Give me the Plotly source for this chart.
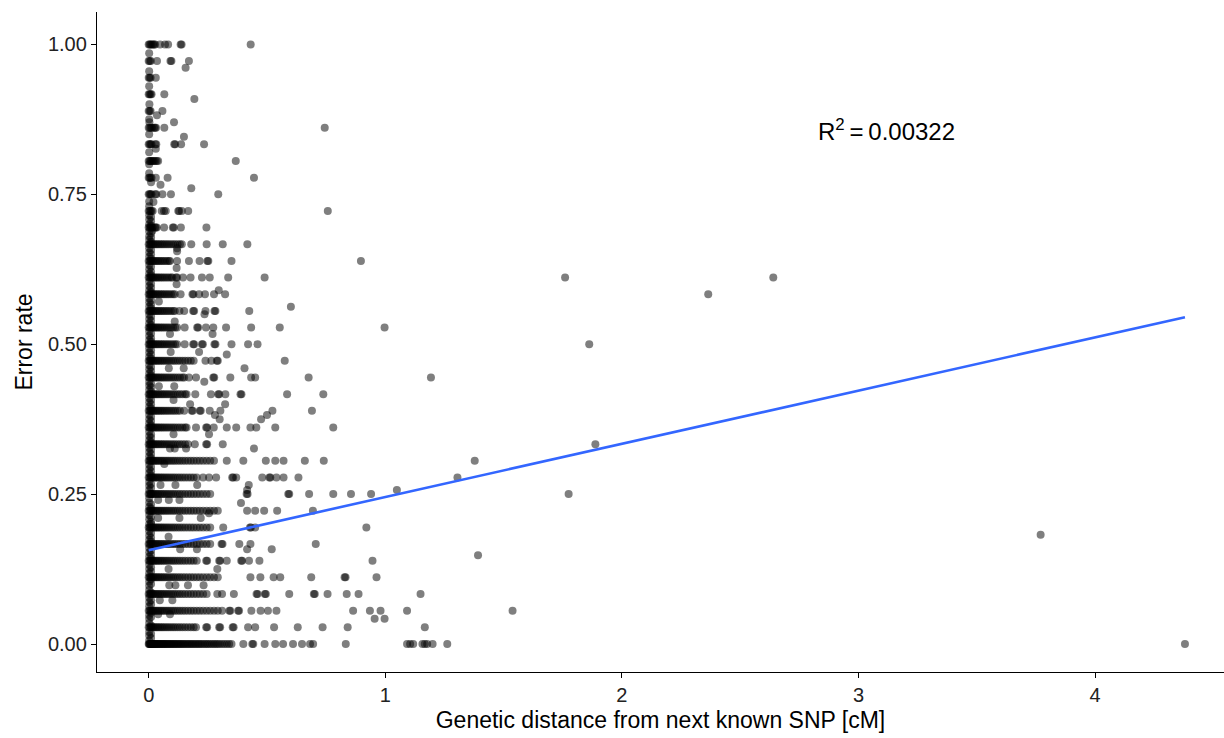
import plotly.graph_objects as go

# ---- data (x = genetic distance [cM], y = error rate) ----
# points on the main error-rate levels (k/36), one list of x values per level
r36 = [0, 0.004, 0.008, 0.013, 0.018, 0.023, 0.027, 0.048, 0.069, 0.082, 0.135, 0.139, 0.431]
r35 = [0, 0.004, 0.009, 0.035, 0.092, 0.096, 0.17]
r34 = [0, 0.004, 0.008, 0.03]
r33 = [0, 0.004, 0.008, 0.012, 0.066]
r32 = [0, 0.004, 0.008, 0.058]
r31 = [0, 0.004, 0.009, 0.014, 0.022, 0.027, 0.031, 0.066, 0.744]
r30 = [0, 0.004, 0.008, 0.012, 0.028, 0.032, 0.108, 0.112, 0.137, 0.234]
r29 = [0, 0.004, 0.008, 0.012, 0.017, 0.022, 0.028, 0.034, 0.04, 0.368]
r28 = [0, 0.004, 0.008, 0.012, 0.03, 0.08, 0.445]
r27 = [0, 0.004, 0.008, 0.012, 0.028, 0.032, 0.058, 0.094, 0.294]
r26 = [0, 0.004, 0.008, 0.012, 0.017, 0.055, 0.065, 0.072, 0.125, 0.129, 0.14, 0.167, 0.757]
r25 = [0, 0.004, 0.008, 0.012, 0.017, 0.026, 0.03, 0.034, 0.065, 0.102, 0.106, 0.136, 0.244]
r24 = [0, 0.004, 0.008, 0.012, 0.017, 0.022, 0.028, 0.034, 0.04, 0.047, 0.054, 0.061, 0.069,
       0.077, 0.085, 0.094, 0.103, 0.112, 0.122, 0.132, 0.14, 0.18, 0.245, 0.313, 0.417]
r23 = [0, 0.004, 0.008, 0.012, 0.017, 0.022, 0.028, 0.034, 0.04, 0.047, 0.054, 0.061, 0.069,
       0.077, 0.085, 0.09, 0.12, 0.17, 0.215, 0.248, 0.252, 0.35, 0.897]
r22 = [0, 0.004, 0.008, 0.012, 0.017, 0.022, 0.028, 0.034, 0.04, 0.047, 0.054, 0.061, 0.069,
       0.077, 0.085, 0.094, 0.1, 0.116, 0.12, 0.145, 0.177, 0.225, 0.258, 0.336, 0.49, 1.76, 2.64]
r21 = [0, 0.004, 0.008, 0.012, 0.017, 0.022, 0.028, 0.034, 0.04, 0.047, 0.054, 0.061, 0.069,
       0.077, 0.085, 0.094, 0.103, 0.11, 0.135, 0.185, 0.189, 0.213, 0.238, 0.276, 0.323, 2.365]
r20 = [0, 0.004, 0.008, 0.012, 0.017, 0.022, 0.028, 0.034, 0.04, 0.047, 0.054, 0.061, 0.069,
       0.077, 0.085, 0.094, 0.103, 0.11, 0.13, 0.15, 0.188, 0.192, 0.24, 0.278, 0.282, 0.425]
r19 = [0, 0.004, 0.008, 0.012, 0.017, 0.022, 0.028, 0.034, 0.04, 0.047, 0.054, 0.061, 0.069,
       0.077, 0.085, 0.094, 0.103, 0.112, 0.12, 0.152, 0.205, 0.209, 0.242, 0.273, 0.327,
       0.433, 0.554, 0.997]
r18 = [0, 0.004, 0.008, 0.012, 0.017, 0.022, 0.028, 0.034, 0.04, 0.047, 0.054, 0.061, 0.069,
       0.077, 0.085, 0.094, 0.103, 0.112, 0.12, 0.152, 0.188, 0.192, 0.225, 0.229, 0.278,
       0.282, 0.35, 0.42, 0.46, 1.862]
r17 = [0, 0.004, 0.008, 0.012, 0.017, 0.022, 0.028, 0.034, 0.04, 0.047, 0.054, 0.061, 0.069,
       0.077, 0.085, 0.094, 0.103, 0.112, 0.122, 0.132, 0.143, 0.154, 0.166, 0.178, 0.19,
       0.24, 0.265, 0.288, 0.292, 0.575]
r16 = [0, 0.004, 0.008, 0.012, 0.017, 0.022, 0.028, 0.034, 0.04, 0.047, 0.054, 0.061, 0.069,
       0.077, 0.085, 0.094, 0.103, 0.112, 0.122, 0.132, 0.143, 0.15, 0.17, 0.2, 0.273, 0.277,
       0.345, 0.433, 0.45, 0.676, 1.193]
r15 = [0, 0.004, 0.008, 0.012, 0.017, 0.022, 0.028, 0.034, 0.04, 0.047, 0.054, 0.061, 0.069,
       0.077, 0.085, 0.094, 0.103, 0.112, 0.122, 0.132, 0.143, 0.154, 0.16, 0.197, 0.263,
       0.294, 0.298, 0.324, 0.388, 0.392, 0.585, 0.738]
r14 = [0, 0.004, 0.008, 0.012, 0.017, 0.022, 0.028, 0.034, 0.04, 0.047, 0.054, 0.061, 0.069,
       0.077, 0.085, 0.094, 0.103, 0.112, 0.122, 0.132, 0.15, 0.182, 0.186, 0.216, 0.22,
       0.258, 0.303, 0.523, 0.69]
r13 = [0, 0.004, 0.008, 0.012, 0.017, 0.022, 0.028, 0.034, 0.04, 0.047, 0.054, 0.061, 0.069,
       0.077, 0.085, 0.094, 0.103, 0.112, 0.122, 0.132, 0.143, 0.154, 0.16, 0.2, 0.243,
       0.247, 0.275, 0.33, 0.37, 0.43, 0.455, 0.535, 0.78]
r12 = [0, 0.004, 0.008, 0.012, 0.017, 0.022, 0.028, 0.034, 0.04, 0.047, 0.054, 0.061, 0.069,
       0.077, 0.085, 0.094, 0.103, 0.112, 0.122, 0.132, 0.143, 0.154, 0.166, 0.195, 0.243,
       0.247, 0.313, 1.888]
r11 = [0, 0.004, 0.008, 0.012, 0.017, 0.022, 0.028, 0.034, 0.04, 0.047, 0.054, 0.061, 0.069,
       0.077, 0.085, 0.094, 0.103, 0.112, 0.122, 0.132, 0.143, 0.154, 0.166, 0.178, 0.19,
       0.203, 0.216, 0.23, 0.245, 0.26, 0.276, 0.33, 0.4, 0.495, 0.535, 0.57, 0.66, 0.74, 1.378]
r10 = [0, 0.004, 0.008, 0.012, 0.017, 0.022, 0.028, 0.034, 0.04, 0.047, 0.054, 0.061, 0.069,
       0.077, 0.085, 0.094, 0.103, 0.112, 0.122, 0.132, 0.143, 0.154, 0.166, 0.178, 0.19,
       0.203, 0.23, 0.255, 0.285, 0.353, 0.357, 0.37, 0.48, 0.51, 0.514, 0.54, 0.57, 0.633, 1.305]
r09 = [0, 0.004, 0.008, 0.012, 0.017, 0.022, 0.028, 0.034, 0.04, 0.047, 0.054, 0.061, 0.069,
       0.077, 0.085, 0.094, 0.103, 0.112, 0.122, 0.132, 0.143, 0.154, 0.166, 0.178, 0.19,
       0.203, 0.216, 0.23, 0.245, 0.26, 0.414, 0.418, 0.59, 0.594, 0.678, 0.78, 0.855, 0.94, 1.775]
r08 = [0, 0.004, 0.008, 0.012, 0.017, 0.022, 0.028, 0.034, 0.04, 0.047, 0.054, 0.061, 0.069,
       0.077, 0.085, 0.094, 0.103, 0.112, 0.122, 0.132, 0.143, 0.154, 0.166, 0.178, 0.19,
       0.203, 0.216, 0.23, 0.245, 0.26, 0.276, 0.292, 0.416, 0.45, 0.488, 0.543, 0.694]
r07 = [0, 0.004, 0.008, 0.012, 0.017, 0.022, 0.028, 0.034, 0.04, 0.047, 0.054, 0.061, 0.069,
       0.077, 0.085, 0.094, 0.103, 0.112, 0.122, 0.132, 0.143, 0.154, 0.166, 0.178, 0.19,
       0.203, 0.216, 0.23, 0.245, 0.26, 0.315, 0.428, 0.432, 0.45, 0.92]
r06 = [0, 0.004, 0.008, 0.012, 0.017, 0.022, 0.028, 0.034, 0.04, 0.047, 0.054, 0.061, 0.069,
       0.077, 0.085, 0.094, 0.103, 0.112, 0.122, 0.132, 0.143, 0.154, 0.166, 0.178, 0.19,
       0.203, 0.216, 0.23, 0.245, 0.26, 0.308, 0.312, 0.383, 0.43, 0.706]
r05 = [0, 0.004, 0.008, 0.012, 0.017, 0.022, 0.028, 0.034, 0.04, 0.047, 0.054, 0.061, 0.069,
       0.077, 0.085, 0.094, 0.103, 0.112, 0.122, 0.132, 0.143, 0.154, 0.166, 0.178, 0.19,
       0.203, 0.243, 0.247, 0.298, 0.302, 0.33, 0.391, 0.395, 0.424, 0.468, 0.946]
r04 = [0, 0.004, 0.008, 0.012, 0.017, 0.022, 0.028, 0.034, 0.04, 0.047, 0.054, 0.061, 0.069,
       0.077, 0.085, 0.094, 0.103, 0.112, 0.122, 0.132, 0.143, 0.154, 0.166, 0.178, 0.19,
       0.203, 0.216, 0.23, 0.245, 0.26, 0.276, 0.292, 0.43, 0.472, 0.528, 0.556, 0.687,
       0.828, 0.832, 0.963]
r03 = [0, 0.004, 0.008, 0.012, 0.017, 0.022, 0.028, 0.034, 0.04, 0.047, 0.054, 0.061, 0.069,
       0.077, 0.085, 0.094, 0.103, 0.112, 0.122, 0.132, 0.143, 0.154, 0.166, 0.178, 0.19,
       0.203, 0.216, 0.23, 0.245, 0.29, 0.31, 0.36, 0.456, 0.46, 0.491, 0.495, 0.594, 0.698,
       0.702, 0.756, 0.837, 0.887, 1.149]
r02 = [0, 0.004, 0.008, 0.012, 0.017, 0.022, 0.028, 0.034, 0.04, 0.047, 0.054, 0.061, 0.069,
       0.077, 0.085, 0.094, 0.103, 0.112, 0.122, 0.132, 0.143, 0.154, 0.166, 0.178, 0.19,
       0.203, 0.216, 0.23, 0.245, 0.26, 0.276, 0.292, 0.31, 0.341, 0.345, 0.378, 0.382,
       0.434, 0.473, 0.504, 0.54, 0.864, 0.935, 0.98, 1.092, 1.538]
r01 = [0, 0.004, 0.008, 0.012, 0.017, 0.022, 0.028, 0.034, 0.04, 0.047, 0.054, 0.061, 0.069,
       0.077, 0.085, 0.094, 0.103, 0.112, 0.122, 0.132, 0.143, 0.154, 0.166, 0.178, 0.19,
       0.2, 0.243, 0.247, 0.298, 0.302, 0.355, 0.359, 0.42, 0.45, 0.53, 0.63, 0.735, 0.841, 1.167]
r00 = [0, 0.002, 0.004, 0.006, 0.008, 0.01, 0.012, 0.014, 0.017, 0.02, 0.022, 0.025, 0.028,
       0.031, 0.034, 0.037, 0.04, 0.044, 0.047, 0.05, 0.054, 0.058, 0.061, 0.065, 0.069, 0.073,
       0.077, 0.081, 0.085, 0.09, 0.094, 0.098, 0.103, 0.108, 0.112, 0.117, 0.122, 0.127,
       0.132, 0.137, 0.143, 0.148, 0.154, 0.16, 0.166, 0.172, 0.178, 0.184, 0.19, 0.197,
       0.203, 0.21, 0.216, 0.223, 0.23, 0.238, 0.245, 0.252, 0.26, 0.268, 0.276, 0.284,
       0.292, 0.3, 0.31, 0.32, 0.33, 0.34, 0.35, 0.4, 0.438, 0.442, 0.49, 0.535, 0.568,
       0.61, 0.648, 0.682, 0.695, 0.833, 1.092, 1.105, 1.118, 1.157, 1.167, 1.177, 1.2,
       1.262, 4.38]

level_rows = [r00, r01, r02, r03, r04, r05, r06, r07, r08, r09, r10, r11, r12, r13, r14,
              r15, r16, r17, r18, r19, r20, r21, r22, r23, r24, r25, r26, r27, r28, r29,
              r30, r31, r32, r33, r34, r35, r36]
level_denominator = 36

# points that sit between the main levels
extra_x = [0.156, 0.193, 0.003, 0.035, 0.003, 0.107, 0.149, 0.03, 0.01, 0.05, 0.18, 0.02,
           0.015, 0.12, 0.12, 0.118, 0.118, 0.296, 0.043, 0.601, 0.236, 0.11, 0.09, 0.27,
           0.093, 0.213, 0.33, 0.085, 0.148, 0.405, 0.235, 0.043, 0.108, 0.105, 0.175, 0.323,
           0.28, 0.5, 0.475, 0.3, 0.105, 0.255, 0.09, 0.11, 0.158, 0.445, 0.066, 0.05, 0.113,
           0.205, 0.423, 0.416, 1.049, 0.04, 0.085, 0.13, 0.39, 0.255, 0.04, 0.13, 0.22, 3.77,
           0.084, 0.133, 0.204, 0.416, 0.52, 1.392, 0.084, 0.29, 0.087, 0.113, 0.166, 0.232,
           0.047, 0.1, 0.04, 0.09, 0.955, 0.997]
extra_y = [0.961, 0.909, 0.9, 0.882, 0.87, 0.87, 0.846, 0.826, 0.77, 0.766, 0.76, 0.737,
           0.689, 0.66, 0.655, 0.627, 0.6, 0.59, 0.571, 0.5625, 0.55, 0.538, 0.517, 0.517,
           0.487, 0.487, 0.483, 0.46, 0.46, 0.46, 0.4375, 0.43, 0.43, 0.407, 0.4, 0.4,
           0.382, 0.382, 0.375, 0.375, 0.35, 0.35, 0.326, 0.326, 0.326, 0.326, 0.3, 0.265, 0.265,
           0.265, 0.265, 0.257, 0.257, 0.24, 0.24, 0.24, 0.235, 0.218, 0.21, 0.21, 0.21, 0.182,
           0.179, 0.158, 0.158, 0.158, 0.158, 0.148, 0.125, 0.125, 0.098, 0.098, 0.098, 0.098,
           0.073, 0.073, 0.0495, 0.0495, 0.042, 0.042]

# columns of points at (almost) zero distance with scattered error rates
col_y = [0.006, 0.014, 0.02, 0.035, 0.042, 0.048, 0.063, 0.07, 0.077, 0.09, 0.097, 0.104,
         0.118, 0.125, 0.132, 0.146, 0.153, 0.16, 0.174, 0.181, 0.188, 0.2, 0.208, 0.215,
         0.229, 0.236, 0.243, 0.257, 0.264, 0.27, 0.285, 0.292, 0.299, 0.313, 0.32, 0.327,
         0.34, 0.347, 0.354, 0.368, 0.375, 0.382, 0.396, 0.403, 0.41, 0.424, 0.431, 0.437,
         0.451, 0.458, 0.465, 0.479, 0.486, 0.493, 0.507, 0.514, 0.521, 0.535, 0.542, 0.549,
         0.563, 0.57, 0.576, 0.59, 0.597, 0.604, 0.618, 0.625, 0.632, 0.646, 0.653, 0.66,
         0.674, 0.68, 0.688, 0.7, 0.708, 0.715, 0.73, 0.738, 0.785, 0.8, 0.82, 0.85, 0.875,
         0.93, 0.955, 0.985]
col_x_value = 0.002
col2_y = [0.01, 0.017, 0.031, 0.045, 0.052, 0.066, 0.073, 0.086, 0.1, 0.108, 0.121, 0.128,
          0.142, 0.149, 0.156, 0.171, 0.177, 0.185, 0.2, 0.204, 0.212, 0.226, 0.233, 0.25,
          0.26, 0.267, 0.281, 0.288, 0.295, 0.31, 0.317, 0.324, 0.337, 0.344, 0.35, 0.365,
          0.372, 0.379, 0.393, 0.4, 0.407, 0.421, 0.428, 0.434, 0.448, 0.455, 0.462, 0.476,
          0.483, 0.49, 0.504, 0.51, 0.518, 0.532, 0.539, 0.546, 0.56, 0.566, 0.573, 0.587,
          0.594, 0.601, 0.615, 0.621, 0.629, 0.643, 0.65, 0.657, 0.671, 0.678, 0.685, 0.698,
          0.705, 0.712]
col2_x_value = 0.01

# fitted regression line
fit_x = [0.0, 4.38]
fit_y = [0.1564, 0.545]
r2_text = "R<sup>2</sup>\u2009=\u20090.00322"

x_ticks = [0, 1, 2, 3, 4]
y_ticks = [0.0, 0.25, 0.5, 0.75, 1.0]
y_tick_labels = ["0.00", "0.25", "0.50", "0.75", "1.00"]

# ---- assemble ----
xs, ys = [], []
for k, row in enumerate(level_rows):
    for xv in row:
        xs.append(xv)
        ys.append(k / level_denominator)
xs += extra_x
ys += extra_y
xs += [col_x_value] * len(col_y)
ys += col_y
xs += [col2_x_value] * len(col2_y)
ys += col2_y

FONT = "Liberation Sans, Arial, Helvetica, sans-serif"

fig = go.Figure()
fig.add_trace(go.Scatter(
    x=xs, y=ys, mode="markers",
    marker=dict(size=8, color="rgba(0,0,0,0.5)", line=dict(width=0)),
    hoverinfo="skip", showlegend=False))
fig.add_trace(go.Scatter(
    x=fit_x, y=fit_y, mode="lines",
    line=dict(color="#3366FF", width=2.6),
    hoverinfo="skip", showlegend=False))

fig.add_annotation(x=2.82, y=0.857, xref="x", yref="y", text=r2_text,
                   showarrow=False, xanchor="left", yanchor="middle",
                   font=dict(family=FONT, size=24, color="black"))

axis_common = dict(showgrid=False, zeroline=False, showline=True, linecolor="black",
                   linewidth=1.3, ticks="outside", ticklen=5, tickwidth=1.3,
                   tickcolor="black", tickfont=dict(family=FONT, size=20, color="#222222"))

fig.update_layout(
    width=1224, height=738,
    margin=dict(l=97, r=0, t=12, b=66),
    paper_bgcolor="white", plot_bgcolor="white",
    xaxis=dict(range=[-0.2185, 4.545], tickvals=x_ticks,
               ticktext=[str(t) for t in x_ticks],
               title=dict(text="Genetic distance from next known SNP [cM]",
                          font=dict(family=FONT, size=23, color="black"), standoff=6),
               **axis_common),
    yaxis=dict(range=[-0.0467, 1.054], tickvals=y_ticks, ticktext=y_tick_labels,
               title=dict(text="Error rate", font=dict(family=FONT, size=23, color="black"),
                          standoff=8),
               **axis_common),
)

fig.write_html("out.html")
